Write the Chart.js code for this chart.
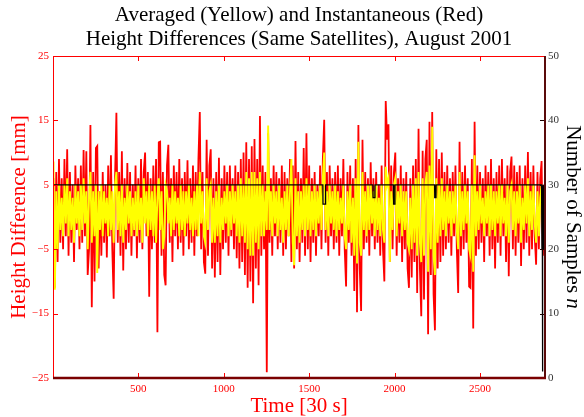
<!DOCTYPE html>
<html lang="en">
<head>
  <meta charset="UTF-8">
  <title>Averaged and Instantaneous Height Differences, August 2001</title>
  <script src="https://cdn.jsdelivr.net/npm/chart.js"></script>
  <style>
    html, body { margin: 0; padding: 0; background: #fff; }
    canvas { display: block; }
  </style>
</head>
<body>
  <canvas id="heightChart" width="584" height="417"></canvas>
  <script>
    // instantaneous height differences [mm], one value every 8 epochs (local extremes)
    const instant = [
      6, -11, 7, -7, 9, -4, 6, -5, 9, -3,
      10.5, -6, 7, -4, 5, -7, 8, -2, 6, -5,
      8, -4, 10.4, -3, 10.2, -9, -5, 14.3, -14, 7,
      -10, 10.7, 11, -8, 4, -6, 7, -4, 5, -6.3,
      8, -3, 9.6, -5, -12.7, 6, 16.2, -4, 7, -6,
      10.2, -8.3, 6, -5, 8.4, -4, 7, -6, 5, -3,
      8, -6.4, 6, -4, 9, -5, 7, 10, -3, 7,
      -12.4, 6, -5, 8, -4, 9, -17.9, 11.6, 11.7, -6,
      7, -9, -10.6, 8, 11.2, -4, 6, -7, 8, -3,
      7, -5, 9, -4, 6, -6, 7, -3, 8.8, -5,
      6, -4, 8, -6, 7, -3, 9, 16.3, -5, 7,
      -7, -8.8, 12, -6, 8, 10.5, -8, 6, -9.4, 7,
      -7, 9.2, -9, 6, -5, 8, -4, 7, -6, 8,
      -3, 6, -5, 8, -6.4, 7, -8, 9, -7, 10,
      -9, 11.6, -11, 9, -10, 11, -13.4, 12.1, -8, 9,
      -10.6, 15.7, -6, 8, -5, 7, -24.1, 13, -4, 6,
      -6, 8, -3, 7, -5, 6, -4, 8, -6, 7,
      -5, 6, -3, 9, -7, 8, -8, 11.8, -5, 7,
      -7, 6, -4, 10.7, -6, 13, -5, 8, -7, 6,
      -4, 7, -6, 5, -3, 8, -5, 9, 15.1, -4,
      7, -6, 8, -3, 6, -5, 7, -4, 8, -6,
      6, -3, 9, -5, -10.8, 7, -4, 8, -6, 6,
      -11.5, 9, -14.8, 14.3, -8, -14.6, 12, -5, 7, -4,
      6, -6, 8.5, -3, 6, -5, 7, -4, 5, -6,
      8, -5, -10, 18, 12, 14.4, -7, 8, -5, 7,
      10, -6, 6, -4, 8, -7, 6, -5, 7, -8,
      -11, 6, -9.4, 8, -7, 9, -11.8, 13.7, -8, -15.4,
      10.3, -12.8, 9, 12, -18.2, 14.8, -9, 16.3, -12, -17.6,
      10.5, -8, 9, -7, 10, -6, 7, -5, 8, -4,
      6, -6, 7, -3, 8, -5, -11.8, 11.7, -6, 7,
      -5, 8, -4, 6, -10.8, -11, 9, -17.3, 14.8, -6,
      8, -5, 7, -4, 6, -7, 8, -3, 7, -6,
      9, -5, 6, -8, 7, -4, 8, -6, 9, -3,
      6, -7, 8, -9.2, 7, 9.4, -5, 8, -6, 7,
      -4, 8, -7.6, 6, -5, 8, -4, 10.1, -6, 7,
      -5, 8, -3, -7.4, 7, -5, 6, 8.7, -6, 5
    ];

    // averaged height differences [mm], same epochs
    const averaged = [
      8.6, -11.3, 4, -5, 5, -2, 3, -3, 5, -1,
      6, -3, 4, -2, 3, -4, 5, -1, 4, -3,
      5, -2, 6, -1, 4, -5, 3, 7, -4, 4,
      -3, 5, -8.7, 4, -2, 5, -3, 4, -1, 3,
      -3, 5, -2, 4, -4, 5, 7, -2, 4, -3,
      5, -4, 3, -2, 5, -1, 4, -3, 3, -2,
      4, -3, 5, -2, 3, -4, 6, -1, 4, -3,
      5, -2, 4, -3, 5, -4, 3, 6, -2, 4,
      -5, -3, 5, 4, -1, 3, -3, 5, -2, 4,
      -1, 3, -3, 5, -2, 4, -3, 4, -1, 5,
      -2, 3, -3, 4, -2, 5, -3, 7, -1, 4,
      -3, -4, 6, -2, 4, 5, -4, 3, -4, 4,
      -3, 5, -4, 3, -2, 4, -1, 5, -3, 4,
      -2, 5, -1, 4, -3, 5, -4, 6, -3, 5,
      -4, 7, -5, 6, -6, 7, -6, 7, -4, 6,
      -5, 7, -3, 5, -3, 4, -2, 14.2, -2, 4,
      -3, 5, -1, 4, -3, 5, -2, 3, -4, 4,
      -2, 5, -3, 4, 9, -4, -7.5, 6, -3, 4,
      -4, 4, -2, 5, -3, 6, -2, 5, -3, 4,
      -2, 5, -3, 4, -1, 5, -2, 6, 10, -2,
      4, -3, 5, -1, 4, -2, 5, -3, 4, -2,
      3, -1, 5, -3, -5, 4, -2, 5, -4, 3,
      -6, 6, -7.2, 11.7, -4, -6, 7, -2, 4, -3,
      5, -2, 5, -1, 4, -3, 5, -2, 3, -3,
      5, -2, -4, 7.8, 5, 6, -7, 4, -2, 5,
      6, -3, 4, -1, 5, -3, 4, -2, 4, -4,
      -5, 3, -5, 5, -4, 6, -6, 7, -4, -7,
      6, -6, 5, 7, -8.5, 8, -5, 14, -6, -9,
      6, -4, 5, -3, 6, -2, 4, -3, 5, -1,
      4, -3, 4, -1, 5, -2, -5, 7, -3, 4,
      -2, 5, -1, 4, -5, -6, 5, -8.5, 9.6, -3,
      4, -2, 5, -1, 3, -3, 4, -1, 5, -3,
      5, -2, 4, -3, 4, -1, 5, -3, 5, -1,
      3, -3, 5, -4, 4, 5, -2, 4, -3, 4,
      -1, 5, -4, 3, -2, 5, -1, 6, -3, 4,
      -2, 5, -1, -4, 4, -3, 3, 5, -3, 3
    ];

    // number of samples n (right axis), given at the epochs where it changes
    const sampleTimes = [1, 1580, 1581, 1595, 1596, 1873, 1874, 1884, 1885, 1993, 1994, 2001, 2002,
      2234, 2235, 2242, 2243, 2860, 2862, 2864, 2865, 2866, 2867, 2869, 2871, 2873, 2875, 2877, 2879, 2880];
    const sampleCounts = [30, 30, 27, 27, 30, 30, 28, 28, 30, 30, 27, 27, 30,
      30, 28, 28, 30, 30, 20, 30, 20, 1, 20, 30, 20, 30, 20, 30, 20, 24];

    const epochs = instant.map((_, i) => 4 + i * 8);
    const timeTicks = [500, 1000, 1500, 2000, 2500];
    const heightTicks = [-25, -15, -5, 5, 15, 25];
    const countTicks = [0, 10, 20, 30, 40, 50];

    const serif = '"Liberation Serif", "Times New Roman", serif';
    const fmtMinus = v => (v < 0 ? '\u2212' + Math.abs(v) : String(v));

    const frame = {
      id: 'frame',
      afterDraw(chart) {
        const { ctx, chartArea: a, scales } = chart;
        ctx.save();
        // inward tick marks
        ctx.lineWidth = 1;
        ctx.strokeStyle = '#ff0000';
        timeTicks.forEach(t => {
          const x = Math.round(scales.x.getPixelForValue(t)) + 0.5;
          ctx.beginPath();
          ctx.moveTo(x, a.top); ctx.lineTo(x, a.top + 5);
          ctx.moveTo(x, a.bottom); ctx.lineTo(x, a.bottom - 5);
          ctx.stroke();
        });
        heightTicks.forEach(t => {
          const y = Math.round(scales.y.getPixelForValue(t)) + 0.5;
          ctx.beginPath();
          ctx.moveTo(a.left, y); ctx.lineTo(a.left + 5, y);
          ctx.stroke();
        });
        ctx.strokeStyle = '#1a0000';
        countTicks.forEach(t => {
          const y = Math.round(scales.y1.getPixelForValue(t)) + 0.5;
          ctx.beginPath();
          ctx.moveTo(a.right, y); ctx.lineTo(a.right - 5, y);
          ctx.stroke();
        });
        // box
        ctx.strokeStyle = '#ff0000';
        ctx.beginPath();
        ctx.moveTo(a.left + 0.5, a.bottom); ctx.lineTo(a.left + 0.5, a.top + 0.5); ctx.lineTo(a.right, a.top + 0.5);
        ctx.stroke();
        ctx.strokeStyle = '#5a0a0a';
        ctx.lineWidth = 2;
        ctx.beginPath();
        ctx.moveTo(a.right, a.top); ctx.lineTo(a.right, a.bottom);
        ctx.stroke();
        ctx.strokeStyle = '#7a0000';
        ctx.lineWidth = 2.5;
        ctx.beginPath();
        ctx.moveTo(a.left, a.bottom); ctx.lineTo(a.right + 1, a.bottom);
        ctx.stroke();

        // titles
        const cx = (a.left + a.right) / 2;
        ctx.font = '21px ' + serif;
        ctx.textAlign = 'center';
        ctx.textBaseline = 'alphabetic';
        ctx.fillStyle = '#000';
        ctx.fillText('Averaged (Yellow) and Instantaneous (Red)', cx, 21);
        ctx.fillText('Height Differences (Same Satellites), August 2001', cx, 45);
        ctx.fillStyle = '#ff0000';
        ctx.fillText('Time [30 s]', cx, 412);

        const cy = (a.top + a.bottom) / 2;
        ctx.save();
        ctx.translate(25, cy);
        ctx.rotate(-Math.PI / 2);
        ctx.fillText('Height Difference [mm]', 0, 0);
        ctx.restore();

        ctx.save();
        ctx.translate(567, cy);
        ctx.rotate(Math.PI / 2);
        ctx.fillStyle = '#000';
        ctx.textAlign = 'left';
        const main = 'Number of Samples ';
        ctx.font = '21px ' + serif;
        const w1 = ctx.measureText(main).width;
        ctx.font = 'italic 21px ' + serif;
        const w2 = ctx.measureText('n').width;
        const x0 = -(w1 + w2) / 2;
        ctx.font = '21px ' + serif;
        ctx.fillText(main, x0, 0);
        ctx.font = 'italic 21px ' + serif;
        ctx.fillText('n', x0 + w1, 0);
        ctx.restore();
        ctx.restore();
      }
    };

    new Chart(document.getElementById('heightChart'), {
      type: 'line',
      data: {
        datasets: [
          {
            label: 'n',
            data: sampleTimes.map((t, i) => ({ x: t, y: sampleCounts[i] })),
            yAxisID: 'y1',
            borderColor: '#000000',
            borderWidth: 1.3,
            pointRadius: 0,
            order: 0
          },
          {
            label: 'Averaged',
            data: epochs.map((t, i) => ({ x: t, y: averaged[i] })),
            yAxisID: 'y',
            borderColor: '#ffff00',
            borderWidth: 1.9,
            pointRadius: 0,
            order: 1
          },
          {
            label: 'Instantaneous',
            data: epochs.map((t, i) => ({ x: t, y: instant[i] })),
            yAxisID: 'y',
            borderColor: '#ff0000',
            borderWidth: 1.8,
            pointRadius: 0,
            order: 2
          }
        ]
      },
      options: {
        responsive: false,
        devicePixelRatio: 1,
        animation: false,
        layout: { padding: { top: 56, left: 0, right: 0, bottom: 0 } },
        plugins: { legend: { display: false }, tooltip: { enabled: false }, title: { display: false } },
        elements: { line: { tension: 0 } },
        scales: {
          x: {
            type: 'linear',
            min: 1,
            max: 2880,
            afterBuildTicks: s => { s.ticks = timeTicks.map(v => ({ value: v })); },
            afterFit: s => { s.height = 39; },
            grid: { display: false, drawTicks: false },
            border: { display: false },
            ticks: { color: '#ff0000', padding: 5, maxRotation: 0, callback: v => String(v), font: { family: serif, size: 11 } }
          },
          y: {
            position: 'left',
            min: -25,
            max: 25,
            afterBuildTicks: s => { s.ticks = heightTicks.map(v => ({ value: v })); },
            afterFit: s => { s.width = 53; },
            grid: { display: false, drawTicks: false },
            border: { display: false },
            ticks: { color: '#ff0000', padding: 4, callback: fmtMinus, font: { family: serif, size: 11 } }
          },
          y1: {
            position: 'right',
            min: 0,
            max: 50,
            afterBuildTicks: s => { s.ticks = countTicks.map(v => ({ value: v })); },
            afterFit: s => { s.width = 39; },
            grid: { display: false, drawTicks: false },
            border: { display: false },
            ticks: { color: '#333333', padding: 3, callback: v => String(v), font: { family: serif, size: 11 } }
          }
        }
      },
      plugins: [frame]
    });
  </script>
</body>
</html>
